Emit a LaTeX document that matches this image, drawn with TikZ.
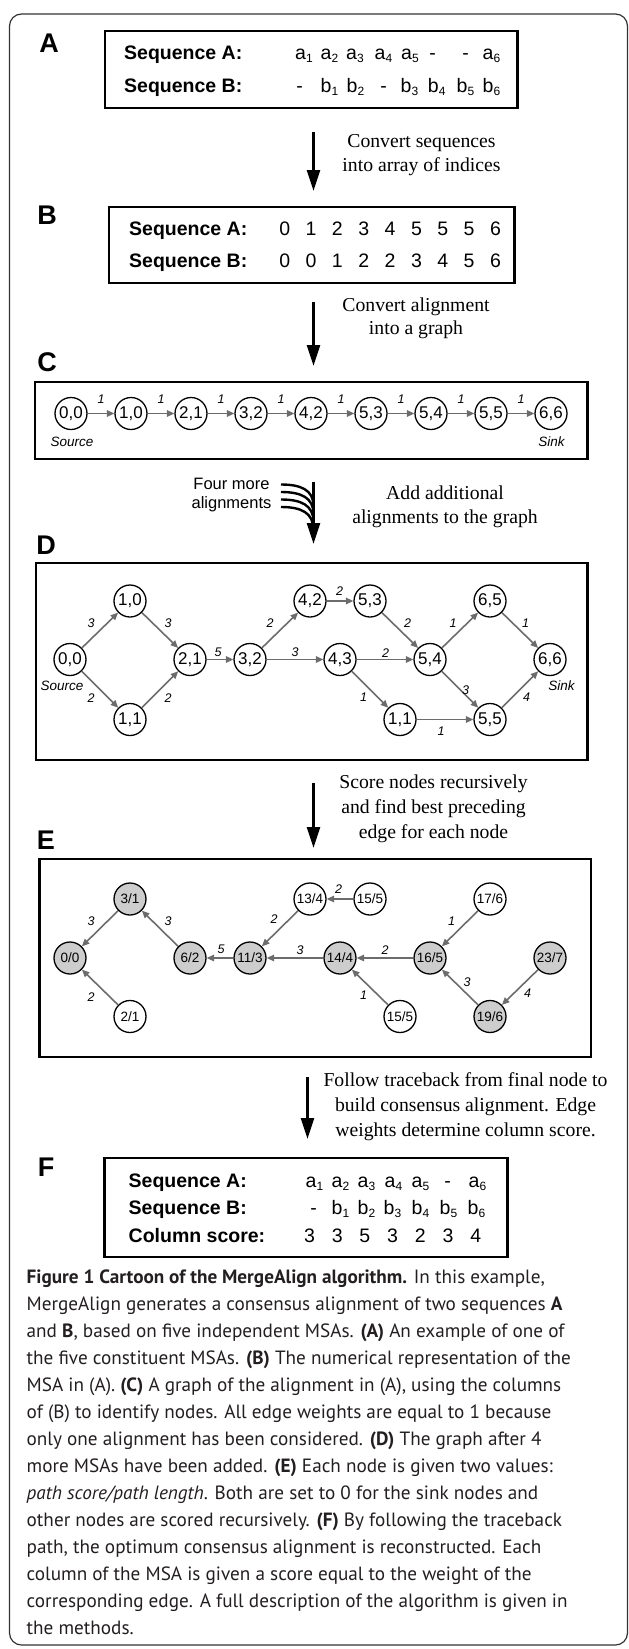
\documentclass[tikz,border=0pt]{standalone}
\usepackage{fontspec}
\setmainfont{Liberation Sans}
\newfontfamily\seriffont{Liberation Serif}
\newfontfamily\capfont{PT Sans}
\usetikzlibrary{arrows.meta}
\definecolor{edgegray}{RGB}{108,108,108}
\definecolor{nodefill}{RGB}{205,205,205}
\definecolor{captext}{RGB}{35,31,32}
\newcommand{\fsz}[1]{\fontsize{#1bp}{#1bp}\selectfont}
\newcommand{\ssb}[2]{#1\raisebox{-0.16em}{\fontsize{12bp}{12bp}\selectfont #2}}
\begin{document}
\begin{tikzpicture}[x=1bp,y=-1bp,
  panel/.style={font=\fsz{27}\bfseries, inner sep=0pt},
  seqbox/.style={draw, line width=2.4bp},
  seqlab/.style={font=\fsz{19.5}\bfseries, anchor=base west, inner sep=0pt},
  seqval/.style={font=\fsz{19.5}, anchor=base, inner sep=0pt},
  steptext/.style={font=\seriffont\fsz{19.7}, anchor=base, inner sep=0pt},
  smalltext/.style={font=\fsz{16.5}, anchor=base, inner sep=0pt},
  gnode/.style={circle, draw, line width=1.3bp, minimum size=32bp, inner sep=0pt, font=\fsz{17}},
  enode/.style={gnode, font=\fsz{13.5}},
  efill/.style={enode, fill=nodefill},
  gedge/.style={draw=edgegray, line width=1.6bp, -{Triangle[length=7.5bp,width=6.5bp]}},
  wlab/.style={font=\fsz{12.5}\itshape, inner sep=0pt},
  endlab/.style={font=\fsz{13.5}\itshape, inner sep=0pt},
  bigarrow/.style={line width=2.6bp, -{Triangle[length=21bp,width=13bp]}},
  capline/.style={font=\capfont\fsz{19.2}, anchor=base west, inner sep=0pt, text=captext}
]
\useasboundingbox (0,0) rectangle (629,1649);
\draw[line width=1.2bp, draw=black!80, rounded corners=12bp] (9.5,14) rectangle (627.5,1645);

% ---------- A ----------
\node[panel] (labA) at (49,43) {A};
\draw[seqbox] (105,31) rectangle (517.5,108);
\node[seqlab] (aSA) at (124,59.3) {Sequence A:};
\node[seqlab] (aSB) at (124,92.7) {Sequence B:};
\foreach \x/\t [count=\i] in {304/\ssb{a}{1},329.5/\ssb{a}{2},355/\ssb{a}{3},383.5/\ssb{a}{4},410/\ssb{a}{5},432.5/-,465.5/-,491.5/\ssb{a}{6}}
  \node[seqval] (aa\i) at (\x,59.3) {\t};
\foreach \x/\t [count=\i] in {299.5/-,329.5/\ssb{b}{1},355.5/\ssb{b}{2},383.5/-,409.5/\ssb{b}{3},436.7/\ssb{b}{4},465.5/\ssb{b}{5},491.5/\ssb{b}{6}}
  \node[seqval] (ab\i) at (\x,92.7) {\t};

% arrow 1
\coordinate (ar1s) at (313.5,132);
\coordinate (ar1e) at (313.5,191);
\draw[bigarrow] (ar1s) -- (ar1e);
\node[steptext] (t1a) at (421.5,147.5) {Convert sequences};
\node[steptext] (t1b) at (421.5,171.5) {into array of indices};

% ---------- B ----------
\node[panel] (labB) at (47,215) {B};
\draw[seqbox] (109,207) rectangle (514.5,283);
\node[seqlab] (bSA) at (129,235) {Sequence A:};
\node[seqlab] (bSB) at (129,267) {Sequence B:};
\foreach \t [count=\i from 0] in {0,1,2,3,4,5,5,5,6}
  \node[seqval] (ba\i) at (284.7+26.35*\i,235) {\t};
\foreach \t [count=\i from 0] in {0,0,1,2,2,3,4,5,6}
  \node[seqval] (bb\i) at (284.7+26.35*\i,267) {\t};

% arrow 2
\coordinate (ar2s) at (313.5,302);
\coordinate (ar2e) at (313.5,366);
\draw[bigarrow] (ar2s) -- (ar2e);
\node[steptext] (t2a) at (416,311.5) {Convert alignment};
\node[steptext] (t2b) at (416,334.5) {into a graph};

% ---------- C ----------
\node[panel] (labC) at (47,362) {C};
\draw[seqbox] (35,382) rectangle (587.5,459);
\foreach \t [count=\i from 0] in {{0,0},{1,0},{2,1},{3,2},{4,2},{5,3},{5,4},{5,5},{6,6}}
  \node[gnode] (c\i) at (71+60*\i,413.5) {\t};
\foreach \i [evaluate=\i as \j using int(\i+1)] in {0,...,7} {
  \draw[gedge] (c\i) -- (c\j);
  \node[wlab] (cw\i) at (101+60*\i,399) {1};
}
\node[endlab] (csrc) at (72,442) {Source};
\node[endlab] (csnk) at (551.5,442) {Sink};

% arrow 3 with four merging alignments
\coordinate (ar3s) at (313.5,482);
\coordinate (ar3e) at (313.5,544);
\draw[bigarrow] (ar3s) -- (ar3e);
\foreach \k in {0,1,2,3} {
  \coordinate (fm\k s) at (281,484.5+7.5*\k);
  \coordinate (fm\k e) at (313.5,506+8*\k);
  \draw[line width=2.4bp] (fm\k s) .. controls (301,484.5+7.5*\k) and (313.5,490+7.5*\k) .. (fm\k e);
}
\node[smalltext] (fma) at (231.5,489) {Four more};
\node[smalltext] (fmb) at (231.5,508.5) {alignments};
\node[steptext] (t3a) at (445,499.5) {Add additional};
\node[steptext] (t3b) at (445,523.5) {alignments to the graph};

% ---------- D ----------
\node[panel] (labD) at (46,545) {D};
\draw[seqbox] (36,563) rectangle (587.5,760);
\node[gnode] (d00) at (70,659.5) {0,0};
\node[gnode] (d10) at (130,601) {1,0};
\node[gnode] (d11) at (130,719.5) {1,1};
\node[gnode] (d21) at (190,659.5) {2,1};
\node[gnode] (d32) at (250,659.5) {3,2};
\node[gnode] (d42) at (310,601) {4,2};
\node[gnode] (d53) at (370,601) {5,3};
\node[gnode] (d43) at (340,659.5) {4,3};
\node[gnode] (d54) at (430,659.5) {5,4};
\node[gnode] (d65) at (490,601) {6,5};
\node[gnode] (d66) at (550,659.5) {6,6};
\node[gnode] (d11b) at (400,719.5) {1,1};
\node[gnode] (d55) at (490,719.5) {5,5};
\draw[gedge] (d00) -- (d10);
\draw[gedge] (d10) -- (d21);
\draw[gedge] (d00) -- (d11);
\draw[gedge] (d11) -- (d21);
\draw[gedge] (d21) -- (d32);
\draw[gedge] (d32) -- (d42);
\draw[gedge] (d42) -- (d53);
\draw[gedge] (d32) -- (d43);
\draw[gedge] (d53) -- (d54);
\draw[gedge] (d43) -- (d54);
\draw[gedge] (d43) -- (d11b);
\draw[gedge] (d54) -- (d65);
\draw[gedge] (d65) -- (d66);
\draw[gedge] (d54) -- (d55);
\draw[gedge] (d11b) -- (d55);
\draw[gedge] (d55) -- (d66);
\node[wlab] (dw1) at (91,623) {3};
\node[wlab] (dw2) at (168,623) {3};
\node[wlab] (dw3) at (91,698) {2};
\node[wlab] (dw4) at (168,698) {2};
\node[wlab] (dw5) at (218,652) {5};
\node[wlab] (dw6) at (270,623) {2};
\node[wlab] (dw7) at (295,652) {3};
\node[wlab] (dw8) at (339.5,591) {2};
\node[wlab] (dw9) at (407.5,623) {2};
\node[wlab] (dw10) at (385.5,653) {2};
\node[wlab] (dw11) at (453,623) {1};
\node[wlab] (dw12) at (525.5,623) {1};
\node[wlab] (dw13) at (363.5,697) {1};
\node[wlab] (dw14) at (465.5,690) {3};
\node[wlab] (dw15) at (526.5,697) {4};
\node[wlab] (dw16) at (441,731.5) {1};
\node[endlab] (dsrc) at (62,686) {Source};
\node[endlab] (dsnk) at (561.5,686) {Sink};

% arrow 4
\coordinate (ar4s) at (313.5,783);
\coordinate (ar4e) at (313.5,848);
\draw[bigarrow] (ar4s) -- (ar4e);
\node[steptext] (t4a) at (433.5,788.5) {Score nodes recursively};
\node[steptext] (t4b) at (433.5,813.5) {and find best preceding};
\node[steptext] (t4c) at (433.5,838.5) {edge for each node};

% ---------- E ----------
\node[panel] (labE) at (46,840) {E};
\draw[seqbox] (39.5,859) rectangle (591,1057);
\node[efill] (e00) at (70,958) {0/0};
\node[efill] (e31) at (130,899) {3/1};
\node[enode] (e21) at (130,1016.5) {2/1};
\node[efill] (e62) at (190,958) {6/2};
\node[efill] (e113) at (250,958) {11/3};
\node[enode] (e134) at (310,899) {13/4};
\node[enode] (e155t) at (370,899) {15/5};
\node[efill] (e144) at (340,958) {14/4};
\node[efill] (e165) at (430,958) {16/5};
\node[enode] (e176) at (490,899) {17/6};
\node[efill] (e237) at (550,958) {23/7};
\node[enode] (e155b) at (400,1016.5) {15/5};
\node[efill] (e196) at (490,1016.5) {19/6};
\draw[gedge] (e31) -- (e00);
\draw[gedge] (e62) -- (e31);
\draw[gedge] (e21) -- (e00);
\draw[gedge] (e113) -- (e62);
\draw[gedge] (e134) -- (e113);
\draw[gedge] (e155t) -- (e134);
\draw[gedge] (e144) -- (e113);
\draw[gedge] (e165) -- (e144);
\draw[gedge] (e155b) -- (e144);
\draw[gedge] (e176) -- (e165);
\draw[gedge] (e196) -- (e165);
\draw[gedge] (e237) -- (e196);
\node[wlab] (ew1) at (91,921) {3};
\node[wlab] (ew2) at (168,921) {3};
\node[wlab] (ew3) at (91,997) {2};
\node[wlab] (ew4) at (221,949) {5};
\node[wlab] (ew5) at (274,919) {2};
\node[wlab] (ew6) at (300,950) {3};
\node[wlab] (ew7) at (338.5,889) {2};
\node[wlab] (ew8) at (385,950) {2};
\node[wlab] (ew9) at (451.5,921) {1};
\node[wlab] (ew10) at (363.5,995) {1};
\node[wlab] (ew11) at (467,982) {3};
\node[wlab] (ew12) at (527.5,993) {4};

% arrow 5
\coordinate (ar5s) at (307.5,1077);
\coordinate (ar5e) at (307.5,1139);
\draw[bigarrow] (ar5s) -- (ar5e);
\node[steptext] (t5a) at (465.5,1086.5) {Follow traceback from final node to};
\node[steptext] (t5b) at (465.5,1111.5) {build consensus alignment. Edge};
\node[steptext] (t5c) at (465.5,1136.5) {weights determine column score.};

% ---------- F ----------
\node[panel] (labF) at (46,1167.5) {F};
\draw[seqbox] (104.5,1158) rectangle (507.5,1257);
\node[seqlab] (fSA) at (128.5,1187) {Sequence A:};
\node[seqlab] (fSB) at (128.5,1214) {Sequence B:};
\node[seqlab] (fCS) at (128.5,1242) {Column score:};
\foreach \x/\t [count=\i] in {314.5/\ssb{a}{1},340.5/\ssb{a}{2},366.5/\ssb{a}{3},393.5/\ssb{a}{4},420.5/\ssb{a}{5},447.5/-,477.5/\ssb{a}{6}}
  \node[seqval] (fa\i) at (\x,1187) {\t};
\foreach \x/\t [count=\i] in {313.5/-,340.5/\ssb{b}{1},366.5/\ssb{b}{2},392.5/\ssb{b}{3},420.5/\ssb{b}{4},448.5/\ssb{b}{5},476.5/\ssb{b}{6}}
  \node[seqval] (fb\i) at (\x,1214) {\t};
\foreach \t [count=\i from 0] in {3,3,5,3,2,3,4}
  \node[seqval] (fc\i) at (309.5+27.7*\i,1242) {\t};

% ---------- caption ----------
\node[capline] (cap1) at (26.5,1283) {{\bfseries Figure 1 Cartoon of the MergeAlign algorithm.} In this example,};
\node[capline] (cap2) at (26.5,1310) {MergeAlign generates a consensus alignment of two sequences {\bfseries A}};
\node[capline] (cap3) at (26.5,1337) {and {\bfseries B}, based on five independent MSAs. {\bfseries (A)} An example of one of};
\node[capline] (cap4) at (26.5,1364) {the five constituent MSAs. {\bfseries (B)} The numerical representation of the};
\node[capline] (cap5) at (26.5,1391) {MSA in (A). {\bfseries (C)} A graph of the alignment in (A), using the columns};
\node[capline] (cap6) at (26.5,1418) {of (B) to identify nodes. All edge weights are equal to 1 because};
\node[capline] (cap7) at (26.5,1445) {only one alignment has been considered. {\bfseries (D)} The graph after 4};
\node[capline] (cap8) at (26.5,1472) {more MSAs have been added. {\bfseries (E)} Each node is given two values:};
\node[capline] (cap9) at (26.5,1499) {{\itshape path score/path length}. Both are set to 0 for the sink nodes and};
\node[capline] (cap10) at (26.5,1526) {other nodes are scored recursively. {\bfseries (F)} By following the traceback};
\node[capline] (cap11) at (26.5,1553) {path, the optimum consensus alignment is reconstructed. Each};
\node[capline] (cap12) at (26.5,1580) {column of the MSA is given a score equal to the weight of the};
\node[capline] (cap13) at (26.5,1607) {corresponding edge. A full description of the algorithm is given in};
\node[capline] (cap14) at (26.5,1634) {the methods.};
\end{tikzpicture}
\end{document}
